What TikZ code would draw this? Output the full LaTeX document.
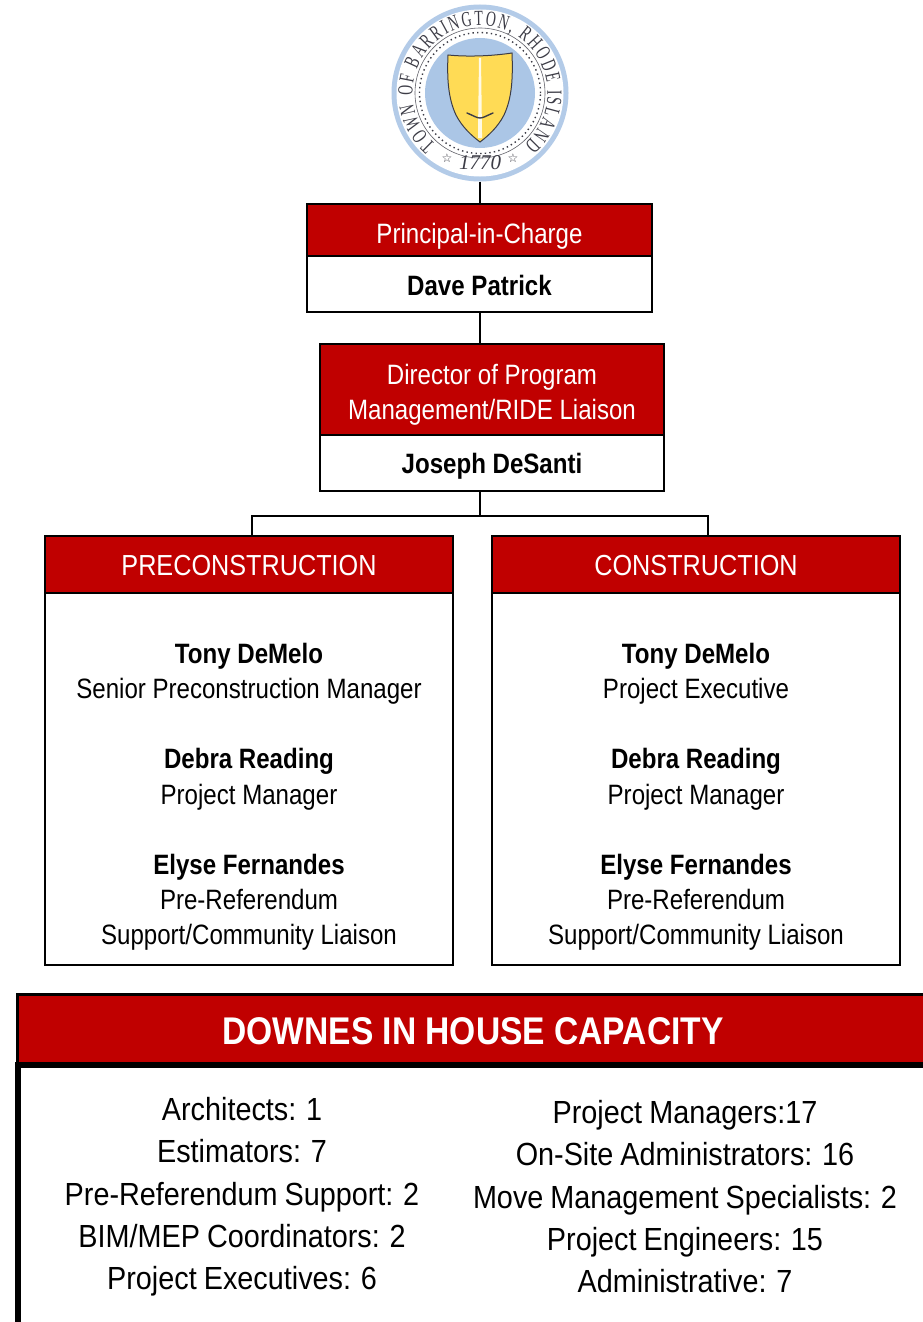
\documentclass[tikz,border=0pt]{standalone}
\usepackage{fontspec}
\usetikzlibrary{decorations.text}
\setmainfont[FakeStretch=0.86]{Liberation Sans}
\newfontfamily\boldn[FakeStretch=0.86]{Liberation Sans}
\newfontfamily\headn[FakeStretch=0.87]{Liberation Sans}
\newfontfamily\wider[FakeStretch=0.90,WordSpace=0.88]{Liberation Sans}
\newfontfamily\seriff{Liberation Serif}
\newfontfamily\serifn[FakeStretch=0.64]{Liberation Serif}
\newfontfamily\symb{DejaVu Sans}
\definecolor{hdr}{HTML}{C00000}
\definecolor{sealblue}{HTML}{ABC6E6}
\definecolor{ringblue}{HTML}{B3CBE8}
\definecolor{shieldy}{HTML}{FFDB55}
\definecolor{sealink}{HTML}{3C3C46}
\tikzset{
  head/.style={draw=black,line width=2pt,fill=hdr,inner sep=0pt,outer sep=0pt},
  body/.style={draw=black,line width=1.6pt,fill=white,inner sep=0pt,outer sep=0pt},
  link/.style={draw=black,line width=1.6pt},
  wt/.style={anchor=base,inner sep=0pt,text=white,font=\fontsize{28}{28}\selectfont},
  wtc/.style={anchor=base,inner sep=0pt,text=white,font=\headn\fontsize{29}{29}\selectfont},
  nm/.style={anchor=base,inner sep=0pt,text=black,font=\boldn\fontsize{28}{28}\selectfont\bfseries},
  rl/.style={anchor=base,inner sep=0pt,text=black,font=\fontsize{28}{28}\selectfont},
  captext/.style={anchor=base,inner sep=0pt,text=black,font=\wider\fontsize{32}{32}\selectfont},
}
\begin{document}
\begin{tikzpicture}[x=1pt,y=-1pt]
\useasboundingbox (0,0) rectangle (922,1322);
\fill[white] (0,0) rectangle (922,1322);
% seal
\node[circle,minimum size=177pt,inner sep=0pt,outer sep=0pt,fill=ringblue] (seal) at (480,93) {};
\begin{scope}[shift={(seal.center)},x=1pt,y=1pt]
  \fill[white] (0,0) circle (83.5pt);
  \draw[sealink!80!white,line width=0.6pt] (0,0) circle (65pt);
  \draw[sealink,line width=1.4pt,dash pattern=on 1.4pt off 3.2pt] (0,0) circle (60.5pt);
  \fill[sealblue] (0,0) circle (55pt);
  \draw[sealink,line width=1pt,fill=shieldy]
    (-32,38) .. controls (-12,36) and (12,37) .. (32,40)
    .. controls (33,15) and (32,-5) .. (24,-22)
    .. controls (18,-34) and (8,-43) .. (0,-49)
    .. controls (-8,-43) and (-18,-34) .. (-24,-22)
    .. controls (-32,-5) and (-33,15) .. (-32,38) -- cycle;
  \fill[white!85!shieldy] (-1,35) -- (1,35) -- (2,-40) -- (2,-45) -- (-2,-45) -- (-2,-40) -- cycle;
  \draw[sealink,line width=1.4pt,line cap=round] (-13,-20) .. controls (-6,-23) and (-3,-25) .. (0,-25) .. controls (3,-25) and (6,-23) .. (13,-20);
  \path[decorate,decoration={text along path,text align={fit to path},
    text={|\serifn\fontsize{21.5}{21.5}\selectfont\color{sealink}|TOWN OF BARRINGTON, RHODE ISLAND}}]
    (229:67.5pt) arc[start angle=229,end angle=-49,radius=67.5pt];
  \node[inner sep=0pt,text=sealink,font=\seriff\itshape\fontsize{21}{21}\selectfont] (year) at (0,-70) {1770};
  \node[inner sep=0pt,text=sealink,font=\symb\fontsize{12}{12}\selectfont] (starl) at (-33,-65) {☆};
  \node[inner sep=0pt,text=sealink,font=\symb\fontsize{12}{12}\selectfont] (starr) at (33,-65) {☆};
\end{scope}
% principal
\node[head,minimum width=345pt,minimum height=52pt] (pich) at (479.5,230) {};
\node[body,minimum width=345pt,minimum height=56pt] (picb) at (479.5,284) {};
\node[wt] (pict) at (479.5,243) {Principal-in-Charge};
\node[nm] (picn) at (479.5,295) {Dave Patrick};
% director
\node[head,minimum width=344pt,minimum height=91pt] (dirh) at (492,389.5) {};
\node[body,minimum width=344pt,minimum height=56pt] (dirb) at (492,463) {};
\node[wt] (dirt1) at (492,384) {Director of Program};
\node[wt] (dirt2) at (492,419) {Management/RIDE Liaison};
\node[nm] (dirn) at (492,473) {Joseph DeSanti};
% preconstruction
\node[body,minimum width=408pt,minimum height=372pt] (preb) at (249,779) {};
\node[head,minimum width=408pt,minimum height=57pt] (preh) at (249,564.5) {};
\node[wtc] (pret) at (249,575) {PRECONSTRUCTION};
\node[nm] (pre1) at (249,663) {Tony DeMelo};
\node[rl] (pre2) at (249,698) {Senior Preconstruction Manager};
\node[nm] (pre3) at (249,768) {Debra Reading};
\node[rl] (pre4) at (249,804) {Project Manager};
\node[nm] (pre5) at (249,874) {Elyse Fernandes};
\node[rl] (pre6) at (249,909) {Pre-Referendum};
\node[rl] (pre7) at (249,944) {Support/Community Liaison};
% construction
\node[body,minimum width=408pt,minimum height=372pt] (conb) at (696,779) {};
\node[head,minimum width=408pt,minimum height=57pt] (conh) at (696,564.5) {};
\node[wtc] (cont) at (696,575) {CONSTRUCTION};
\node[nm] (con1) at (696,663) {Tony DeMelo};
\node[rl] (con2) at (696,698) {Project Executive};
\node[nm] (con3) at (696,768) {Debra Reading};
\node[rl] (con4) at (696,804) {Project Manager};
\node[nm] (con5) at (696,874) {Elyse Fernandes};
\node[rl] (con6) at (696,909) {Pre-Referendum};
\node[rl] (con7) at (696,944) {Support/Community Liaison};
% connectors
\coordinate (bus) at (480,516);
\coordinate (busl) at (252,516);
\coordinate (busr) at (708,516);
\draw[link] (seal.south) -- (pich.north -| seal.south);
\draw[link] (picb.south -| seal.south) -- (dirh.north -| seal.south);
\draw[link] (dirb.south -| seal.south) -- (bus);
\draw[link] (preh.north -| busl) -- (busl) -- (busr) -- (conh.north -| busr);
% downes
\node[draw=black,line width=3pt,fill=hdr,inner sep=0pt,outer sep=0pt,minimum width=960pt,minimum height=70pt] (dowh) at (497.5,1029) {};
\node[draw=black,line width=5.5pt,fill=white,inner sep=0pt,outer sep=0pt,minimum width=960pt,minimum height=400pt] (dowb) at (498,1265) {};
\node[anchor=base,inner sep=0pt,text=white,font=\headn\fontsize{38.6}{38.6}\selectfont\bfseries] (dowt) at (473,1044) {DOWNES IN HOUSE CAPACITY};
\node[captext] (l1) at (242,1120) {Architects: 1};
\node[captext] (l2) at (242,1162) {Estimators: 7};
\node[captext] (l3) at (242,1205) {Pre-Referendum Support: 2};
\node[captext] (l4) at (242,1247) {BIM/MEP Coordinators: 2};
\node[captext] (l5) at (242,1289) {Project Executives: 6};
\node[captext] (r1) at (685,1123) {Project Managers:17};
\node[captext] (r2) at (685,1165) {On-Site Administrators: 16};
\node[captext] (r3) at (685,1208) {Move Management Specialists: 2};
\node[captext] (r4) at (685,1250) {Project Engineers: 15};
\node[captext] (r5) at (685,1292) {Administrative: 7};
\end{tikzpicture}
\end{document}
